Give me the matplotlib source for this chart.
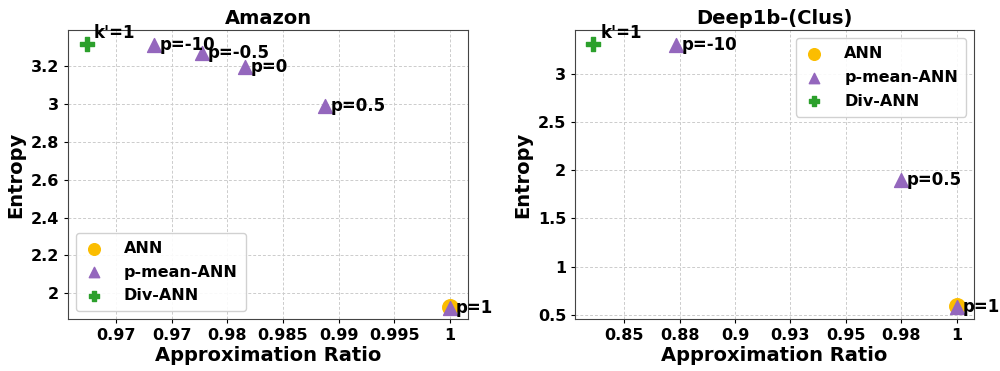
import matplotlib
matplotlib.use("Agg")
import matplotlib.pyplot as plt

# ---- data ----
amz_ann_x = [1.0]
amz_ann_y = [1.93]
amz_pm_x = [0.9734, 0.9777, 0.9816, 0.9888, 1.0]
amz_pm_y = [3.31, 3.265, 3.195, 2.99, 1.925]
amz_pm_labels = ["p=-10", "p=-0.5", "p=0", "p=0.5", "p=1"]
amz_div_x = [0.9674]
amz_div_y = [3.316]
amz_div_labels = ["k'=1"]
amz_xticks = [0.97, 0.975, 0.98, 0.985, 0.99, 0.995, 1.0]
amz_xticklabels = ["0.97", "0.97", "0.98", "0.985", "0.99", "0.995", "1"]
amz_yticks = [2.0, 2.2, 2.4, 2.6, 2.8, 3.0, 3.2]
amz_yticklabels = ["2", "2.2", "2.4", "2.6", "2.8", "3", "3.2"]

deep_ann_x = [1.0]
deep_ann_y = [0.59]
deep_pm_x = [0.8732, 0.975, 1.0]
deep_pm_y = [3.30, 1.90, 0.58]
deep_pm_labels = ["p=-10", "p=0.5", "p=1"]
deep_div_x = [0.836]
deep_div_y = [3.31]
deep_div_labels = ["k'=1"]
deep_xticks = [0.85, 0.875, 0.9, 0.925, 0.95, 0.975, 1.0]
deep_xticklabels = ["0.85", "0.88", "0.9", "0.93", "0.95", "0.98", "1"]
deep_yticks = [0.5, 1.0, 1.5, 2.0, 2.5, 3.0]
deep_yticklabels = ["0.5", "1", "1.5", "2", "2.5", "3"]

C_ANN = "#fbbd00"
C_PM = "#9467bd"
C_DIV = "#2ca02c"

plt.rcParams['font.family'] = 'DejaVu Sans'
plt.rcParams['font.weight'] = 'bold'

fig = plt.figure(figsize=(10, 3.71), dpi=100)
ax1 = fig.add_axes([0.068, 0.139, 0.400, 0.780])
ax2 = fig.add_axes([0.5753, 0.139, 0.3987, 0.780])


def draw(ax, title, ann_x, ann_y, pm_x, pm_y, pm_labels, div_x, div_y, div_labels,
         xt, xtl, yt, ytl, xlim, ylim, legloc):
    ax.set_axisbelow(True)
    ax.grid(True, linestyle=(0, (3, 2)), color='#cccccc', linewidth=0.7)
    ax.scatter(ann_x, ann_y, marker='o', s=125, color=C_ANN, label='ANN', zorder=3)
    ax.scatter(pm_x, pm_y, marker='^', s=100, color=C_PM, label='p-mean-ANN', zorder=4)
    ax.scatter(div_x, div_y, marker='P', s=95, color=C_DIV, label='Div-ANN', zorder=4)
    for x, y, t in zip(pm_x, pm_y, pm_labels):
        ax.annotate(t, (x, y), xytext=(4, 0), textcoords='offset points',
                    fontsize=12, fontweight='bold', va='center', ha='left', zorder=5)
    for x, y, t in zip(div_x, div_y, div_labels):
        ax.annotate(t, (x, y), xytext=(5, 8), textcoords='offset points',
                    fontsize=12, fontweight='bold', va='center', ha='left', zorder=5)
    ax.set_xticks(xt)
    ax.set_xticklabels(xtl)
    ax.set_yticks(yt)
    ax.set_yticklabels(ytl)
    ax.set_xlim(*xlim)
    ax.set_ylim(*ylim)
    ax.tick_params(labelsize=11.5, length=3)
    for lab in ax.get_xticklabels() + ax.get_yticklabels():
        lab.set_fontweight('bold')
    ax.set_xlabel('Approximation Ratio', fontsize=14, fontweight='bold', labelpad=2)
    ax.set_ylabel('Entropy', fontsize=14, fontweight='bold')
    ax.set_title(title, fontsize=14, fontweight='bold', pad=4)
    for s in ax.spines.values():
        s.set_color('#444444')
    ax.legend(loc=legloc, prop={'weight': 'bold', 'size': 11.5},
              markerscale=0.75, handlelength=1.2, handletextpad=1.3,
              framealpha=0.9, borderpad=0.5, labelspacing=0.55)


draw(ax1, 'Amazon', amz_ann_x, amz_ann_y, amz_pm_x, amz_pm_y, amz_pm_labels,
     amz_div_x, amz_div_y, amz_div_labels, amz_xticks, amz_xticklabels,
     amz_yticks, amz_yticklabels, (0.9657, 1.0016), (1.863, 3.388),
     'lower left')
draw(ax2, 'Deep1b-(Clus)', deep_ann_x, deep_ann_y, deep_pm_x, deep_pm_y, deep_pm_labels,
     deep_div_x, deep_div_y, deep_div_labels, deep_xticks, deep_xticklabels,
     deep_yticks, deep_yticklabels, (0.8279, 1.0078), (0.45, 3.46),
     'upper right')

fig.savefig('out.png', dpi=100)
